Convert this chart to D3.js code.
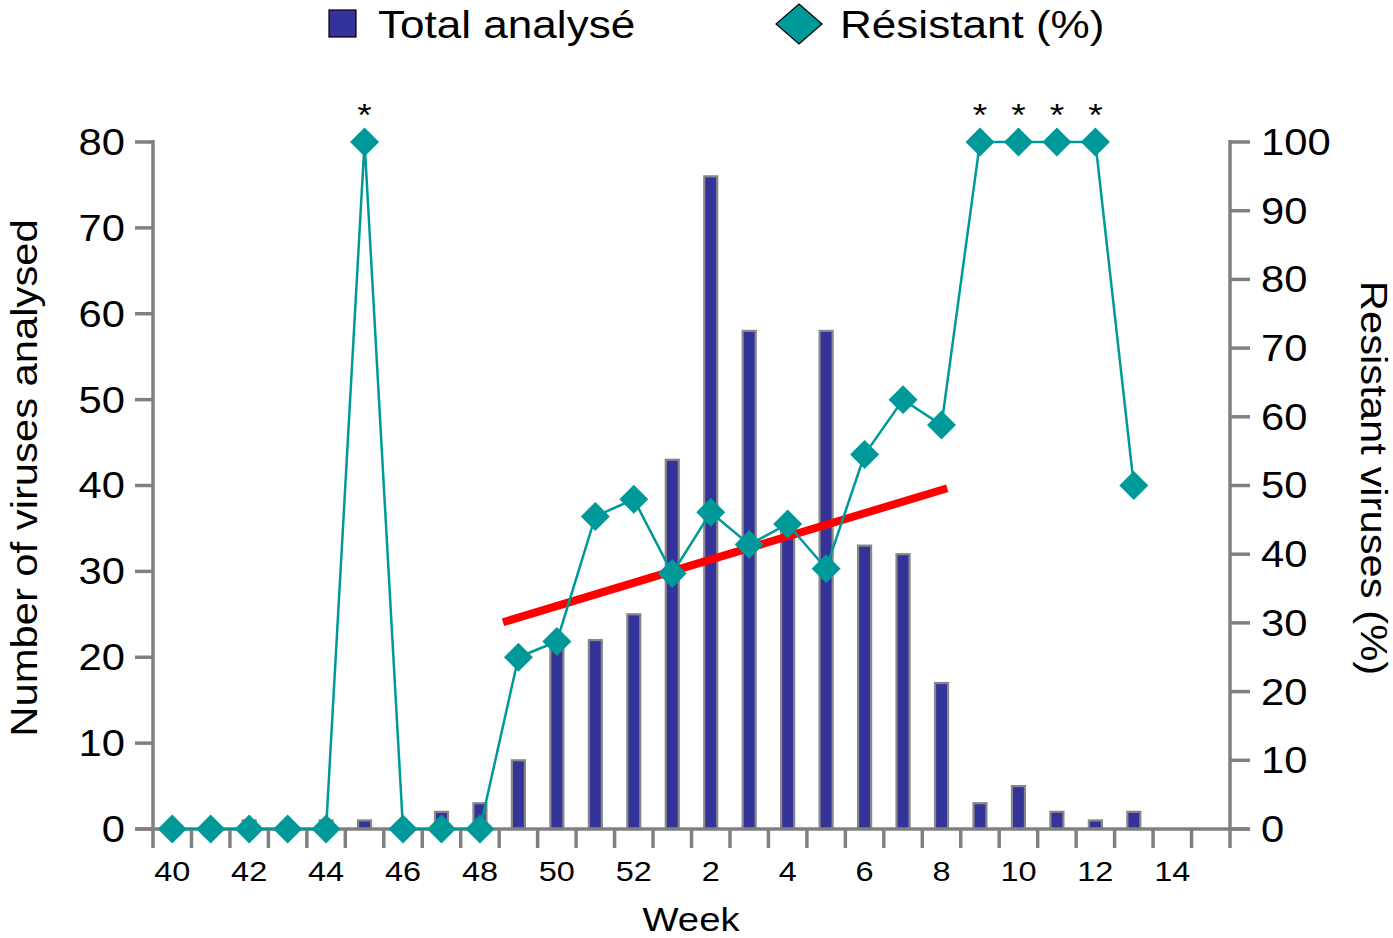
<!DOCTYPE html>
<html><head><meta charset="utf-8">
<script src="https://cdn.jsdelivr.net/npm/d3@7"></script>
<style>body{margin:0;background:#fff}svg{display:block;font-family:"Liberation Sans",Arial,sans-serif}</style>
</head><body>
<svg id="c" width="1393" height="938"></svg>
<script>
const weeks = ["40","41","42","43","44","45","46","47","48","49","50","51","52","1","2","3","4","5","6","7","8","9","10","11","12","13","14","15"];
const totalAnalysed = [0,0,1,0,1,1,0,2,3,8,22,22,25,43,76,58,36,58,33,32,17,3,5,2,1,2,0,0];
const resistantPct = [0,0,0,0,0,100,0,0,0,25,27.3,45.5,48,37.2,46.1,41.4,44.4,37.9,54.5,62.5,58.8,100,100,100,100,50,null,null];
const starWeeks = ["45","9","10","11","12"];
const tickLabelWeeks = ["40","42","44","46","48","50","52","2","4","6","8","10","12","14"];
const leftTicks = [0,10,20,30,40,50,60,70,80];
const rightTicks = [0,10,20,30,40,50,60,70,80,90,100];
const trendPos = [8.6, 20.15];     // category index positions
const trendVal = [30.1, 49.6];     // resistant %

const svg = d3.select("#c");
const L = 153, R = 1230, T = 142, B = 829;
const axisCol = "#808080";
const SX = 1.16;
const x = d3.scaleBand().domain(weeks).range([L, R]).padding(0);
const bw = x.bandwidth();
const xi = d3.scaleLinear().domain([0, weeks.length - 1]).range([x(weeks[0]) + bw/2, x(weeks[weeks.length-1]) + bw/2]);
const yL = d3.scaleLinear().domain([0, 80]).range([B, T]);
const yR = d3.scaleLinear().domain([0, 100]).range([B, T]);

function txt(g, px, py, s, size, anchor, rot, dy) {
  return g.append("text")
    .attr("transform", `translate(${px},${py}) rotate(${rot||0}) scale(${SX},1)`)
    .attr("text-anchor", anchor || "start").attr("dy", dy || 0)
    .attr("font-size", size).text(s);
}

// bars
svg.append("g").selectAll("rect").data(weeks.map((w,i)=>({w,v:totalAnalysed[i]})).filter(d=>d.v>0))
  .join("rect")
  .attr("x", d => x(d.w) + bw/2 - 6.5).attr("width", 13)
  .attr("y", d => yL(d.v)).attr("height", d => B - yL(d.v))
  .attr("fill", "#333399").attr("stroke", "#888").attr("stroke-width", 2.2);

// axes
const ax = svg.append("g").attr("stroke", axisCol).attr("stroke-width", 3.5).attr("fill","none");
ax.append("line").attr("x1", L).attr("x2", L).attr("y1", T - 2).attr("y2", B);
ax.append("line").attr("x1", R).attr("x2", R).attr("y1", T - 2).attr("y2", B);
ax.append("line").attr("x1", L - 18).attr("x2", R + 20).attr("y1", B).attr("y2", B);
leftTicks.forEach(t => ax.append("line").attr("x1", L - 18).attr("x2", L).attr("y1", yL(t)).attr("y2", yL(t)));
rightTicks.forEach(t => ax.append("line").attr("x1", R).attr("x2", R + 20).attr("y1", yR(t)).attr("y2", yR(t)));
weeks.forEach(w => ax.append("line").attr("x1", x(w)).attr("x2", x(w)).attr("y1", B).attr("y2", B + 19));
ax.append("line").attr("x1", R).attr("x2", R).attr("y1", B).attr("y2", B + 19);

const tg = svg.append("g");
leftTicks.forEach(t => txt(tg, L - 28, yL(t), t, 36, "end", 0, "0.36em"));
rightTicks.forEach(t => txt(tg, R + 31, yR(t), t, 36, "start", 0, "0.36em"));
tickLabelWeeks.forEach(w => txt(tg, x(w) + bw/2, 881, w, 28, "middle"));
txt(tg, 691, 931, "Week", 33, "middle");
txt(tg, 37, 478, "Number of viruses analysed", 36, "middle", -90);
txt(tg, 1361, 478, "Resistant viruses (%)", 36, "middle", 90);

// trend line
svg.append("line")
  .attr("x1", xi(trendPos[0])).attr("y1", yR(trendVal[0]))
  .attr("x2", xi(trendPos[1])).attr("y2", yR(trendVal[1]))
  .attr("stroke", "#ff0000").attr("stroke-width", 8);

// resistant line + diamonds
const pts = weeks.map((w,i)=>({w,v:resistantPct[i]})).filter(d=>d.v!==null);
const line = d3.line().x(d => x(d.w) + bw/2).y(d => yR(d.v));
svg.append("path").datum(pts).attr("d", line).attr("fill", "none").attr("stroke", "#009999").attr("stroke-width", 2.5);
const sym = d3.symbol().type(d3.symbolSquare).size(420);
svg.append("g").selectAll("path").data(pts).join("path")
  .attr("d", sym)
  .attr("transform", d => `translate(${x(d.w) + bw/2},${yR(d.v)}) rotate(45)`)
  .attr("fill", "#009999");

// asterisks
const sg = svg.append("g");
starWeeks.forEach(w => txt(sg, x(w) + bw/2, 126, "*", 32, "middle"));

// legend
svg.append("rect").attr("x", 329).attr("y", 10).attr("width", 27).attr("height", 27)
  .attr("fill", "#333399").attr("stroke", "#000").attr("stroke-width", 1.2);
txt(svg, 378, 38, "Total analysé", 38, "start");
svg.append("path").attr("d", "M799,4 L822,24 L799,44 L776,24 Z")
  .attr("fill", "#009999").attr("stroke", "#000").attr("stroke-width", 1.2);
txt(svg, 840, 38, "Résistant (%)", 38, "start");
</script>
</body></html>
